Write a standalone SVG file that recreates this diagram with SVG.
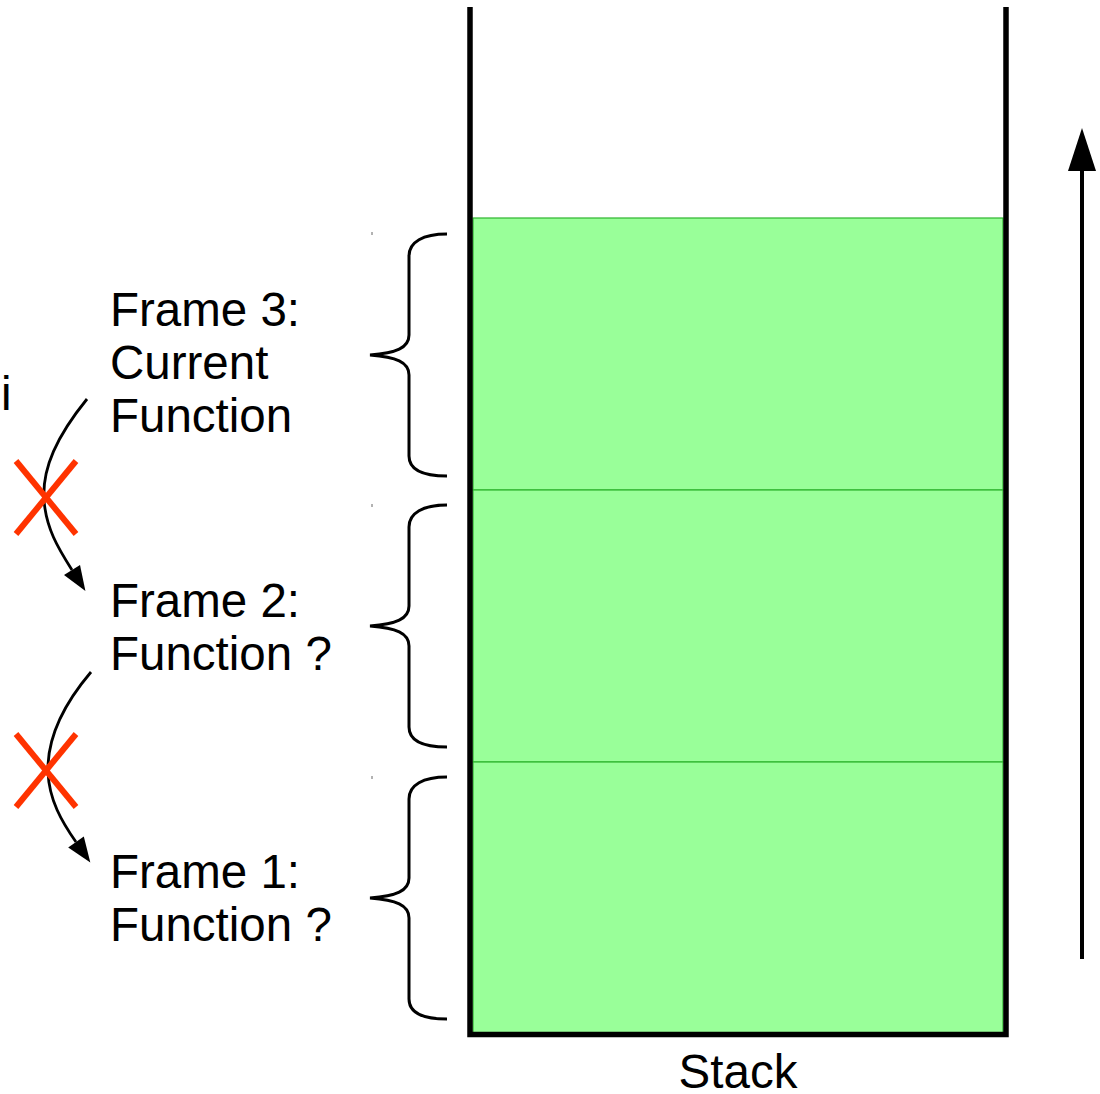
<svg xmlns="http://www.w3.org/2000/svg" width="1100" height="1094" viewBox="0 0 1100 1094">
  <style>
    .label { font-family: "Liberation Sans", Arial, sans-serif; font-size: 47.5px; fill: #000; }
    .frame { fill: #99ff99; stroke: #2db52d; stroke-width: 1.2; }
    .wall { stroke: #000; stroke-width: 5.5; fill: none; }
    .brace { fill: none; stroke: #000; stroke-width: 3; }
    .tick { stroke: #666; stroke-width: 1; }
    .call { fill: none; stroke: #000; stroke-width: 2.8; }
    .cross { stroke: #ff3300; stroke-width: 6; }
  </style>
  <defs>
    <marker id="head" markerUnits="userSpaceOnUse" markerWidth="26" markerHeight="20" viewBox="0 -10 26 20" refX="0" refY="0" orient="auto" overflow="visible">
      <path d="M0,-9.5 L25,0 L0,9.5 z" fill="#000"/>
    </marker>
    <!-- curly brace, 242 tall, tip pointing left -->
    <path id="brace" class="brace" d="M447,0 C423,0 409,8 409,22 L409,101 C409,114 396,119 370,121 C396,123 409,128 409,141 L409,222 C409,236 423,242 447,242"/>
  </defs>

  <!-- stack frames -->
  <g id="frame3">
    <rect class="frame" x="473" y="218" width="530" height="272"/>
    <use href="#brace" transform="translate(0,234)"/>
    <line class="tick" x1="372" y1="232" x2="372" y2="235"/>
    <text class="label" x="110"><tspan x="110" y="326">Frame 3:</tspan><tspan x="110" y="379">Current</tspan><tspan x="110" y="432">Function</tspan></text>
  </g>
  <g id="frame2">
    <rect class="frame" x="473" y="490" width="530" height="272"/>
    <use href="#brace" transform="translate(0,505)"/>
    <line class="tick" x1="372" y1="504" x2="372" y2="507"/>
    <text class="label" x="110"><tspan x="110" y="617">Frame 2:</tspan><tspan x="110" y="670">Function ?</tspan></text>
  </g>
  <g id="frame1">
    <rect class="frame" x="473" y="762" width="530" height="272"/>
    <use href="#brace" transform="translate(0,777)"/>
    <line class="tick" x1="372" y1="776" x2="372" y2="779"/>
    <text class="label" x="110"><tspan x="110" y="888">Frame 1:</tspan><tspan x="110" y="941">Function ?</tspan></text>
  </g>

  <!-- stack container -->
  <g id="stack">
    <path class="wall" d="M470,7 L470,1034.5 L1006,1034.5 L1006,7"/>
    <text class="label" x="738" y="1088" text-anchor="middle">Stack</text>
  </g>

  <!-- stray glyph at the left edge -->
  <g id="edge-label">
    <text class="label" x="1" y="410">i</text>
  </g>

  <!-- growth direction -->
  <g id="growth">
    <line x1="1082" y1="959" x2="1082" y2="166" stroke="#000" stroke-width="4"/>
    <polygon points="1082,128 1096,171 1068,171" fill="#000"/>
  </g>

  <!-- call links between frames, crossed out -->
  <g id="connectors">
    <path class="call" d="M87,399 C57,436 42,468 44,500 C46,528 58,548 72,570" marker-end="url(#head)"/>
    <path class="call" d="M91,672 C63,705 47,740 48,772 C49,800 62,822 76,842" marker-end="url(#head)"/>
    <line class="cross" x1="16" y1="461" x2="76" y2="534"/>
    <line class="cross" x1="76" y1="461" x2="16" y2="534"/>
    <line class="cross" x1="16" y1="734" x2="76" y2="807"/>
    <line class="cross" x1="76" y1="734" x2="16" y2="807"/>
  </g>
</svg>
